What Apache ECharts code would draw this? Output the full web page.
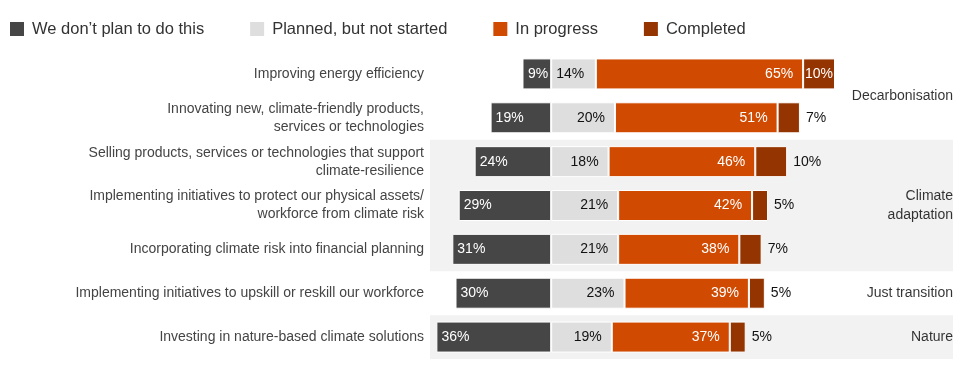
<!DOCTYPE html>
<html>
<head>
<meta charset="utf-8">
<script src="https://cdn.jsdelivr.net/npm/echarts@6/dist/echarts.min.js"></script>
<style>html,body{margin:0;padding:0;background:#fff;}#c{width:980px;height:373px;}</style>
</head>
<body>
<div id="c"></div>
<script>
var categories = [
  'Improving energy efficiency',
  'Innovating new, climate-friendly products,\nservices or technologies',
  'Selling products, services or technologies that support\nclimate-resilience',
  'Implementing initiatives to protect our physical assets/\nworkforce from climate risk',
  'Incorporating climate risk into financial planning',
  'Implementing initiatives to upskill or reskill our workforce',
  'Investing in nature-based climate solutions'
];
var seriesNames = ['We don\u2019t plan to do this', 'Planned, but not started', 'In progress', 'Completed'];
var dontPlan   = [9, 19, 24, 29, 31, 30, 36];
var planned    = [14, 20, 18, 21, 21, 23, 19];
var inProgress = [65, 51, 46, 42, 38, 39, 37];
var completed  = [10, 7, 10, 5, 7, 5, 5];
var groupNames = ['Decarbonisation', 'Climate\nadaptation', 'Just transition', 'Nature'];
var groupRows  = [[0, 1], [2, 3, 4], [5], [6]];
var groupShaded = [false, true, false, true];

var colors = ['#464646', '#dedede', '#d04a02', '#933401'];
var fontFam = '"Liberation Sans", Arial, Helvetica, sans-serif';

var chart = echarts.init(document.getElementById('c'), null, {renderer: 'canvas'});

function pct(p) { return Math.abs(p.value) + '%'; }

var bandAreas = [];
var groupPoints = [];
groupRows.forEach(function (rows, i) {
  var lo = Math.min.apply(null, rows), hi = Math.max.apply(null, rows);
  if (groupShaded[i]) {
    bandAreas.push([{coord: [0, lo - 0.5]}, {coord: [1, hi + 0.5]}]);
  }
  var mid = rows.reduce(function (a, b) { return a + b; }, 0) / rows.length;
  groupPoints.push({value: [1, mid], name: groupNames[i]});
});

function barSeries(idx, data, label) {
  return {
    type: 'bar', stack: 'total', barWidth: 31,
    name: seriesNames[idx],
    xAxisIndex: 0, yAxisIndex: 0,
    itemStyle: {color: colors[idx], borderColor: '#fff', borderWidth: 1},
    emphasis: {disabled: true},
    z: 3,
    data: data,
    label: label
  };
}

var option = {
  animation: false,
  textStyle: {fontFamily: fontFam},
  legend: {
    left: 3, top: 15, itemWidth: 16, itemHeight: 16, itemGap: 44, icon: 'rect',
    selectedMode: false,
    textStyle: {fontSize: 16.5, color: '#333', fontFamily: fontFam, padding: [0, 0, 0, 2]},
    data: seriesNames
  },
  grid: {left: 430, right: 27, top: 52, bottom: 14, containLabel: false},
  xAxis: [
    {type: 'value', min: -38, max: 126, show: false},
    {type: 'value', min: 0, max: 1, show: false}
  ],
  yAxis: [
    {
      type: 'category', data: categories, inverse: true,
      axisLine: {show: false}, axisTick: {show: false},
      axisLabel: {fontSize: 14, color: '#444', margin: 6, lineHeight: 18, align: 'right', fontFamily: fontFam}
    },
    {type: 'value', min: -0.5, max: 6.5, inverse: true, show: false}
  ],
  series: [
    {
      type: 'scatter', name: 'groups', xAxisIndex: 1, yAxisIndex: 1,
      symbolSize: 0, silent: true, z: 1,
      itemStyle: {color: 'rgba(0,0,0,0)'},
      data: groupPoints,
      label: {
        show: true, position: 'left', distance: 0, formatter: function (p) { return p.name; },
        fontSize: 14, color: '#000', align: 'right', lineHeight: 19, fontFamily: fontFam
      },
      markArea: {silent: true, itemStyle: {color: '#f2f2f2'}, data: bandAreas},
      tooltip: {show: false}
    },
    barSeries(0, dontPlan.map(function (v, i) {
        var d = {value: -v};
        if (i === 0) d.label = {position: 'insideRight', distance: 3};
        return d;
      }),
      {show: true, position: 'insideLeft', distance: 5, color: '#fff', fontSize: 14, formatter: pct}),
    barSeries(1, planned.map(function (v, i) {
        var d = {value: v};
        if (i === 0) d.label = {position: 'insideLeft', distance: 5};
        return d;
      }),
      {show: true, position: 'insideRight', distance: 10, color: '#111', fontSize: 14, formatter: pct}),
    barSeries(2, inProgress,
      {show: true, position: 'insideRight', distance: 10, color: '#fff', fontSize: 14, formatter: pct}),
    barSeries(3, completed.map(function (v, i) {
        var d = {value: v};
        if (i === 0) d.label = {position: 'inside', color: '#fff'};
        return d;
      }),
      {show: true, position: 'right', distance: 6, color: '#111', fontSize: 14, formatter: pct})
  ]
};
chart.setOption(option);
</script>
</body>
</html>
